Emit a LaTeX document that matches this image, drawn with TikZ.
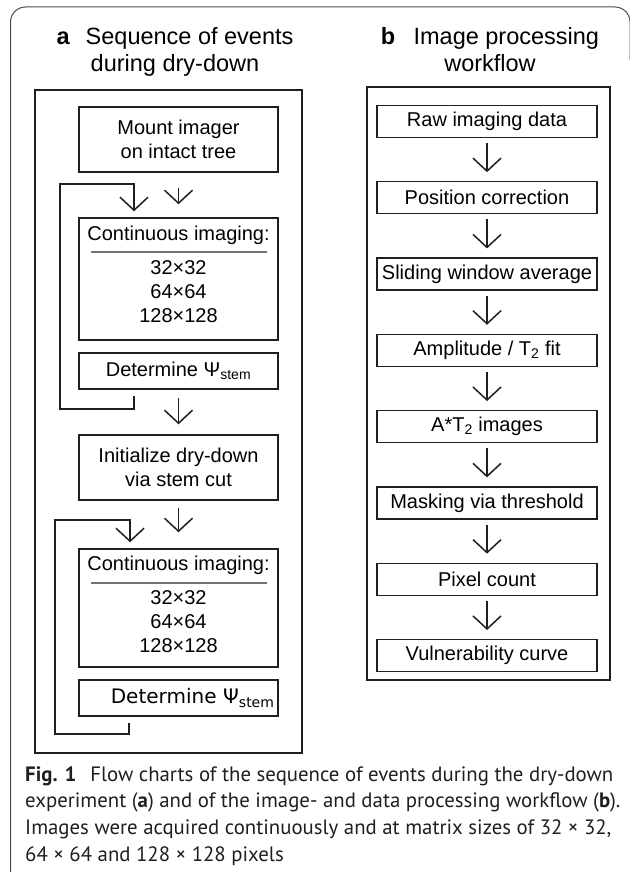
\documentclass[tikz,border=0pt]{standalone}
\usepackage{fontspec}
\setmainfont{Liberation Sans}
\newfontfamily\capfont{PT Sans}
\newfontfamily\verafont{DejaVu Sans}
\usetikzlibrary{positioning, arrows.meta}
\definecolor{rulegray}{gray}{0.45}
\definecolor{inkgray}{gray}{0.12}
\tikzset{
  stepbox/.style={
    % The shape:
    rectangle,
    % The size:
    minimum width=199pt,
    minimum height=36pt,
    inner sep=0pt,
    % The border:
    line width=1.5pt,
    draw=inkgray,
    % Font
    font=\fontsize{20pt}{24pt}\selectfont,
    align=center,
  },
  workbox/.style={
    stepbox,
    minimum width=220pt,
    minimum height=32pt,
    line width=1.3pt,
  },
  panel/.style={
    rectangle,
    inner sep=0pt,
    draw=inkgray,
  },
  heading/.style={
    anchor=north,
    inner sep=0pt,
    align=center,
    font=\fontsize{23.5pt}{27pt}\selectfont,
  },
  flow/.style={
    line width=1.5pt,
    draw=inkgray,
    -{Straight Barb[length=13pt, width=28pt, line width=1.5pt]},
  },
  feedback/.style={
    flow,
    line width=2pt,
  },
}

\begin{document}
\begin{tikzpicture}[x=1pt, y=-1pt]

  \useasboundingbox (0, 0) rectangle (629, 872);

  % page frame, only the top corners are in view
  \draw [line width=1pt, draw=black!70, rounded corners=15pt]
        (10.5, 872) -- (10.5, 7) -- (630, 7) -- (630, 60);

  % ---- a: sequence of events ----
  \node at (175, 27) (title a) [heading] {\textbf{a}\hspace{0.4em} Sequence of events\\during dry-down};

  \node at (168.5, 421.5) (frame a) [panel, line width=2pt, minimum width=267pt, minimum height=663pt] {};

  \node at (178.5, 139.5) (mount) [stepbox, minimum height=65pt] {Mount imager\\on intact tree};

  \node at (178.5, 279) (cont1) [stepbox, minimum height=122pt] {};
  \node (cont1 text) [stepbox, draw=none, below=8pt of cont1.north, minimum height=0pt]
        {Continuous imaging:\\[-11pt]\textcolor{rulegray}{\rule{176pt}{2pt}}\\[-3pt]32×32\\64×64\\128×128};

  \node at (178.5, 371) (det1) [stepbox] {Determine Ψ\textsubscript{stem}};

  \node at (178.5, 467.5) (init) [stepbox, minimum height=65pt] {Initialize dry-down\\via stem cut};

  \node at (178.5, 608) (cont2) [stepbox, minimum height=118pt] {};
  \node (cont2 text) [stepbox, draw=none, below=7pt of cont2.north, minimum height=0pt]
        {Continuous imaging:\\[-11pt]\textcolor{rulegray}{\rule{176pt}{2pt}}\\[-3pt]32×32\\64×64\\128×128};

  \node at (178.5, 698) (det2) [stepbox, text width=192pt, align=right] {\verafont Determine Ψ\textsubscript{stem}};

  \draw [flow, shorten <=15pt, shorten >=13pt] (mount.south) to (cont1.north);
  \draw [flow, shorten <=8pt, shorten >=10pt] (det1.south) to (init.north);
  \draw [flow, shorten <=7pt, shorten >=16pt] (init.south) to (cont2.north);

  % loops back from each measurement to the imaging block
  \coordinate (loop1 low) at (60, 409);
  \coordinate (loop1 high) at (60, 184);
  \draw [feedback] ([xshift=-44.5pt, yshift=-6pt] det1.south) |- (loop1 low) to (loop1 high)
        -| ([xshift=-44.5pt, yshift=6pt] cont1.north);

  \coordinate (loop2 low) at (55, 734);
  \coordinate (loop2 high) at (55, 520);
  \draw [feedback] ([xshift=-49.5pt, yshift=-6pt] det2.south) |- (loop2 low) to (loop2 high)
        -| ([xshift=-48.5pt, yshift=6pt] cont2.north);

  % ---- b: image processing ----
  \node at (490, 27) (title b) [heading] {\textbf{b}\hspace{0.5em} Image processing\\workflow};

  \node at (488.5, 383.5) (frame b) [panel, line width=1.3pt, minimum width=243pt, minimum height=593pt] {};

  \node at (487, 121.5) (raw) [workbox] {Raw imaging data};
  \node (position) [workbox, below=43pt of raw] {Position correction};
  \node (sliding) [workbox, below=43pt of position] {Sliding window average};
  \node (fitting) [workbox, below=43pt of sliding] {Amplitude / T\textsubscript{2} fit};
  \node (images) [workbox, below=43pt of fitting] {A*T\textsubscript{2} images};
  \node (masking) [workbox, below=43pt of images] {Masking via threshold};
  \node (count) [workbox, below=43pt of masking] {Pixel count};
  \node (curve) [workbox, below=43pt of count] {Vulnerability curve};

  \draw [flow, shorten <=5pt, shorten >=9pt] (raw) to (position);
  \draw [flow, shorten <=5pt, shorten >=9pt] (position) to (sliding);
  \draw [flow, shorten <=5pt, shorten >=9pt] (sliding) to (fitting);
  \draw [flow, shorten <=5pt, shorten >=9pt] (fitting) to (images);
  \draw [flow, shorten <=5pt, shorten >=9pt] (images) to (masking);
  \draw [flow, shorten <=5pt, shorten >=9pt] (masking) to (count);
  \draw [flow, shorten <=5pt, shorten >=9pt] (count) to (curve);

  % ---- caption ----
  \node at (25, 766) (caption) [anchor=north west, inner sep=0pt, align=left, text=inkgray,
        font=\capfont\fontsize{20.8pt}{26.7pt}\selectfont]
        {\textbf{Fig. 1}\hspace{0.4em} Flow charts of the sequence of events during the dry-down\\
         experiment (\textbf{a}) and of the image- and data processing workflow (\textbf{b}).\\
         Images were acquired continuously and at matrix sizes of 32 × 32,\\
         64 × 64 and 128 × 128 pixels};

\end{tikzpicture}
\end{document}
